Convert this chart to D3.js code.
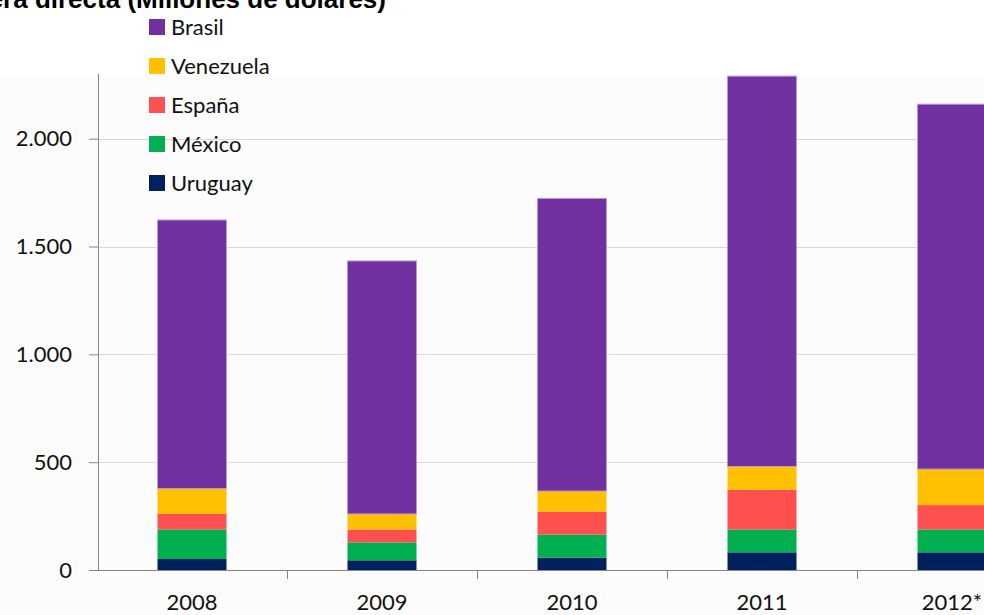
<!DOCTYPE html>
<html lang="es">
<head>
    <meta charset="UTF-8">
    <title>Inversión por país de destino</title>
    <script src="https://cdnjs.cloudflare.com/ajax/libs/d3/7.8.5/d3.min.js"></script>
    <style>
        html, body { margin: 0; padding: 0; background: #fff; overflow: hidden; }
        svg { display: block; }
    </style>
</head>
<body>
<script type="text/javascript">
    // datos (millones de dólares)
    const years = ["2008", "2009", "2010", "2011", "2012*"];
    const countries = ["Uruguay", "México", "España", "Venezuela", "Brasil"];
    const uruguay = [51, 45, 57, 82, 82];
    const mexico = [137, 83, 107, 106, 106];
    const espana = [72, 60, 106, 184, 113];
    const venezuela = [118, 72, 96, 108, 167];
    const brasil = [1245, 1173, 1357, 1810, 1692];
    const yTicks = [0, 500, 1000, 1500, 2000];
    const colors = ["#002060", "#00B050", "#FF5050", "#FFC000", "#7030A0"];

    const width = 984, height = 615;
    const font = "Lato, 'Open Sans', sans-serif";

    const table = years.map((y, i) => ({
        year: y,
        "Uruguay": uruguay[i],
        "México": mexico[i],
        "España": espana[i],
        "Venezuela": venezuela[i],
        "Brasil": brasil[i]
    }));
    const series = d3.stack().keys(countries)(table);

    const x = d3.scaleBand()
        .domain(years)
        .range([97, 97 + 190 * years.length])
        .paddingInner(0.637)
        .paddingOuter(0.637 / 2);
    const y = d3.scaleLinear().domain([0, 2300]).range([570, 74]);
    const color = d3.scaleOrdinal().domain(countries).range(colors);
    const fmt = d3.formatLocale({decimal: ",", thousands: ".", grouping: [3], currency: ["", ""]}).format(",d");

    const svg = d3.select("body").append("svg")
        .attr("width", width)
        .attr("height", height)
        .style("font-family", font);

    // fondo del área de trazado
    svg.append("rect")
        .attr("x", 0).attr("y", 74)
        .attr("width", width).attr("height", height - 74)
        .attr("fill", "#fcfcfc");

    // líneas de cuadrícula
    svg.append("g")
        .selectAll("line")
        .data(yTicks.filter(d => d > 0))
        .join("line")
        .attr("x1", 98).attr("x2", width)
        .attr("y1", d => Math.round(y(d)) + 0.5)
        .attr("y2", d => Math.round(y(d)) + 0.5)
        .attr("stroke", "#d9d9d9")
        .attr("stroke-width", 1);

    // barras apiladas
    svg.append("g")
        .selectAll("g")
        .data(series)
        .join("g")
        .attr("fill", d => color(d.key))
        .selectAll("rect")
        .data(d => d.map(v => Object.assign(v, {key: d.key})))
        .join("rect")
        .attr("x", d => x(d.data.year))
        .attr("width", x.bandwidth())
        .attr("y", d => y(d[1]))
        .attr("height", d => y(d[0]) - y(d[1]))
        .attr("stroke", d => d.key === "Brasil" ? "#b79ad6" : "none")
        .attr("stroke-width", 1);

    // eje Y
    const yAxis = svg.append("g")
        .attr("transform", "translate(98,0)")
        .call(d3.axisLeft(y).tickValues(yTicks).tickFormat(fmt).tickSize(9).tickPadding(17));
    yAxis.select(".domain").attr("d", "M0.5,74V570.5").attr("stroke", "#868686");
    yAxis.selectAll(".tick line").attr("stroke", "#868686");
    yAxis.selectAll(".tick text")
        .attr("fill", "#111")
        .style("font-size", "22px")
        .style("font-family", font);

    // eje X
    const xAxis = svg.append("g")
        .attr("transform", "translate(0,570)")
        .call(d3.axisBottom(x).tickSize(0).tickPadding(24));
    xAxis.select(".domain").attr("d", "M98,0.5H" + width).attr("stroke", "#868686");
    xAxis.selectAll(".tick text")
        .attr("fill", "#111")
        .style("font-size", "22px")
        .style("font-family", font);
    svg.append("g")
        .selectAll("line")
        .data(years.slice(1))
        .join("line")
        .attr("x1", d => Math.round(x(d) - x.step() * x.paddingInner() / 2) + 0.5)
        .attr("x2", d => Math.round(x(d) - x.step() * x.paddingInner() / 2) + 0.5)
        .attr("y1", 570).attr("y2", 579)
        .attr("stroke", "#868686");

    // título (cortado por arriba, como en el original)
    svg.append("text")
        .attr("x", 386).attr("y", 8)
        .attr("text-anchor", "end")
        .style("font-family", "'Liberation Sans', Arial, sans-serif")
        .style("font-weight", "bold")
        .style("font-size", "26px")
        .attr("fill", "#000")
        .text("Inversión extranjera directa (Millones de dólares)");

    // leyenda
    const legend = svg.append("g")
        .selectAll("g")
        .data(countries.slice().reverse())
        .join("g")
        .attr("transform", (d, i) => `translate(149,${19 + i * 39})`);
    legend.append("rect")
        .attr("width", 16).attr("height", 16)
        .attr("fill", d => color(d));
    legend.append("text")
        .attr("x", 22).attr("y", 15.5)
        .style("font-size", "22px")
        .attr("fill", "#111")
        .text(d => d);
</script>
</body>
</html>
